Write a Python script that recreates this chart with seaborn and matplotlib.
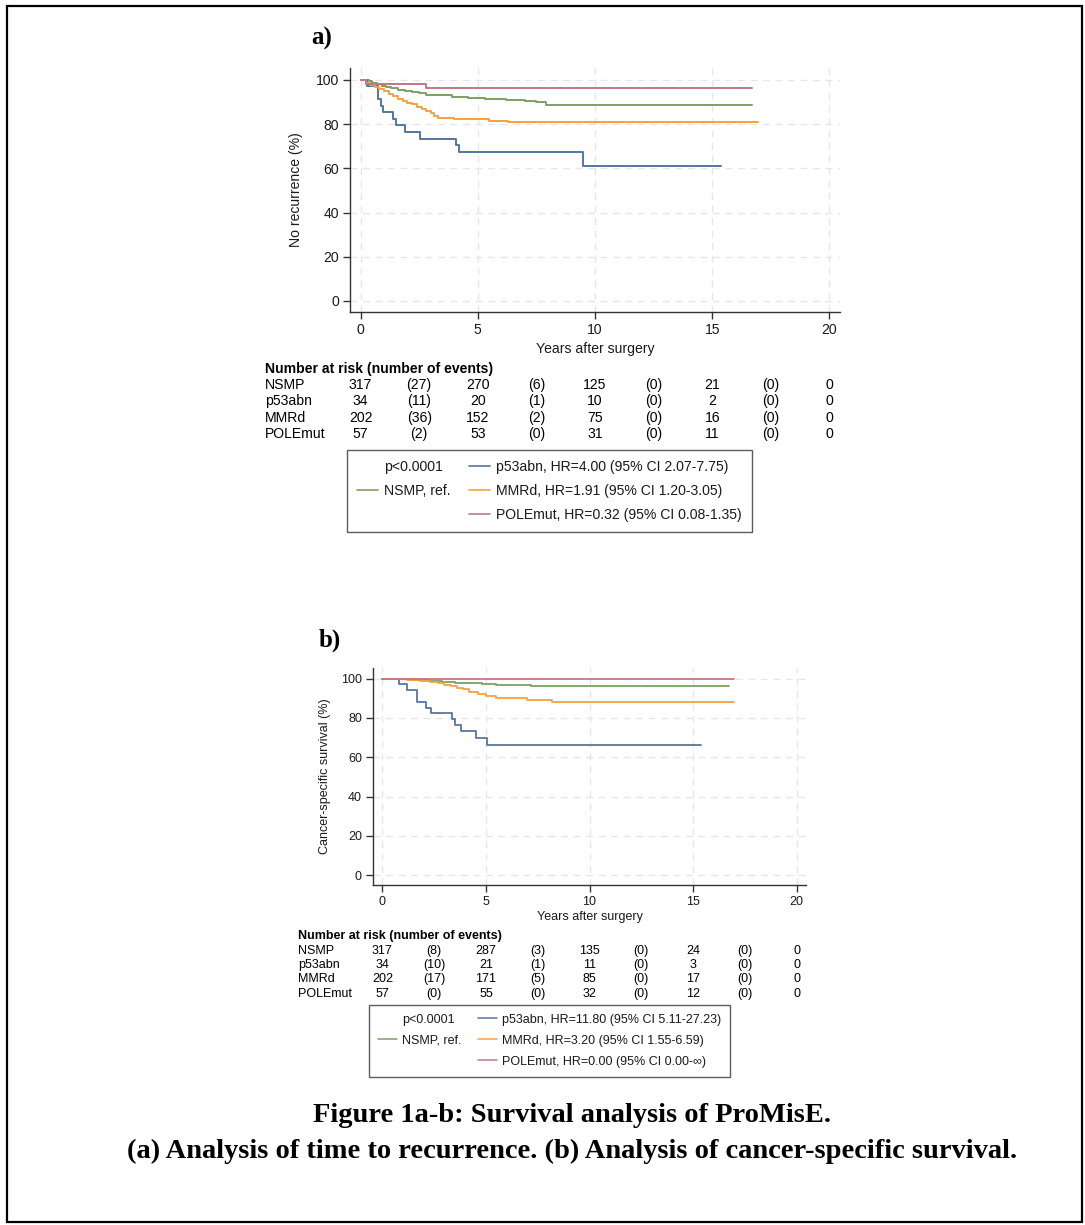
import numpy as np
import pandas as pd
import matplotlib
matplotlib.use("Agg")
import matplotlib.pyplot as plt
import matplotlib.transforms as mtrans
from matplotlib.lines import Line2D
from matplotlib.patches import Rectangle
import seaborn as sns

sns.set_theme(style="white")
plt.rcParams["font.family"] = ["Liberation Sans", "DejaVu Sans"]
plt.rcParams["text.color"] = "black"

# ---------------- data ----------------
groups = ["NSMP", "p53abn", "MMRd", "POLEmut"]
palette = {"NSMP": "#7f9f62", "p53abn": "#54779f", "MMRd": "#f5a23c", "POLEmut": "#c07a82"}

# Panel a: time to recurrence (step curves: time of change, new value)
a_nsmp_t = [0, 0.35, 0.5, 0.7, 0.9, 1.1, 1.3, 1.6, 1.9, 2.2, 2.5, 2.8, 3.3, 3.9, 4.6, 5.3, 6.2, 7.0, 7.5, 7.9, 16.7]
a_nsmp_s = [100, 99.3, 98.6, 98.0, 97.3, 96.7, 96.2, 95.6, 95.1, 94.6, 94.0, 93.4, 93.0, 92.5, 91.8, 91.2, 90.8, 90.4, 89.8, 88.8, 88.8]
a_p53_t = [0, 0.28, 0.75, 0.87, 0.97, 1.37, 1.51, 1.91, 2.55, 4.06, 4.21, 9.47, 15.36]
a_p53_s = [100, 97.1, 91.2, 88.2, 85.3, 82.4, 79.4, 76.5, 73.5, 70.4, 67.2, 61.2, 61.2]
a_mmr_t = [0, 0.23, 0.4, 0.6, 0.8, 1.0, 1.2, 1.4, 1.6, 1.8, 2.0, 2.2, 2.4, 2.6, 2.8, 3.0, 3.15, 3.3, 4.0, 5.5, 6.3, 16.95]
a_mmr_s = [100, 98.5, 97.8, 96.8, 95.8, 94.8, 93.8, 92.6, 91.4, 90.6, 89.7, 88.9, 87.9, 87.0, 86.1, 85.0, 83.6, 82.6, 82.1, 81.6, 81.0, 81.0]
a_pole_t = [0, 0.23, 2.8, 16.7]
a_pole_s = [100, 98.2, 96.5, 96.5]

# Panel b: cancer-specific survival
b_nsmp_t = [0, 0.9, 1.5, 2.2, 2.9, 3.5, 4.2, 4.8, 5.5, 6.2, 7.2, 7.6, 16.75]
b_nsmp_s = [100, 99.6, 99.2, 98.8, 98.4, 98.0, 97.6, 97.3, 97.0, 96.7, 96.4, 96.2, 96.2]
b_p53_t = [0, 0.8, 1.17, 1.68, 2.1, 2.34, 3.34, 3.5, 3.8, 4.53, 5.06, 15.4]
b_p53_s = [100, 97.1, 94.1, 88.2, 85.3, 82.3, 79.4, 76.4, 73.4, 69.6, 66.1, 66.1]
b_mmr_t = [0, 1.2, 1.8, 2.3, 2.7, 3.0, 3.3, 3.6, 3.9, 4.2, 4.6, 5.0, 5.5, 7.0, 8.2, 16.96]
b_mmr_s = [100, 99.5, 99.0, 98.5, 97.8, 97.0, 96.2, 95.3, 94.5, 93.2, 92.2, 91.3, 89.9, 89.2, 88.2, 88.2]
b_pole_t = [0, 16.96]
b_pole_s = [100, 100]

# Risk tables
risk_times = [0, 5, 10, 15, 20]
event_times = [2.5, 7.5, 12.5, 17.5]
a_risk = {"NSMP": [317, 270, 125, 21, 0], "p53abn": [34, 20, 10, 2, 0],
          "MMRd": [202, 152, 75, 16, 0], "POLEmut": [57, 53, 31, 11, 0]}
a_events = {"NSMP": [27, 6, 0, 0], "p53abn": [11, 1, 0, 0],
            "MMRd": [36, 2, 0, 0], "POLEmut": [2, 0, 0, 0]}
b_risk = {"NSMP": [317, 287, 135, 24, 0], "p53abn": [34, 21, 11, 3, 0],
          "MMRd": [202, 171, 85, 17, 0], "POLEmut": [57, 55, 32, 12, 0]}
b_events = {"NSMP": [8, 3, 0, 0], "p53abn": [10, 1, 0, 0],
            "MMRd": [17, 5, 0, 0], "POLEmut": [0, 0, 0, 0]}

a_legend = ["p<0.0001", "NSMP, ref.",
            "p53abn, HR=4.00 (95% CI 2.07-7.75)",
            "MMRd, HR=1.91 (95% CI 1.20-3.05)",
            "POLEmut, HR=0.32 (95% CI 0.08-1.35)"]
b_legend = ["p<0.0001", "NSMP, ref.",
            "p53abn, HR=11.80 (95% CI 5.11-27.23)",
            "MMRd, HR=3.20 (95% CI 1.55-6.59)",
            "POLEmut, HR=0.00 (95% CI 0.00-\u221e)"]

# ---------------- figure ----------------
W, H = 1085, 1225
fig = plt.figure(figsize=(W / 100, H / 100), dpi=100)


def fx(px):
    return px / W


def fy(py):
    return 1 - py / H


def make_df(tl, sl):
    frames = []
    for g, t, s in zip(groups, tl, sl):
        frames.append(pd.DataFrame({"group": g, "time": t, "surv": s}))
    return pd.concat(frames, ignore_index=True)


df_a = make_df([a_nsmp_t, a_p53_t, a_mmr_t, a_pole_t], [a_nsmp_s, a_p53_s, a_mmr_s, a_pole_s])
df_b = make_df([b_nsmp_t, b_p53_t, b_mmr_t, b_pole_t], [b_nsmp_s, b_p53_s, b_mmr_s, b_pole_s])

TXT = "#1a1a1a"


def draw_panel(ax, df, ylabel, fs, lw, ylab_x, xlab_y):
    for x in range(0, 21, 5):
        ax.axvline(x, color="#e6e6e6", lw=1, ls=(0, (5, 4)), zorder=0)
    for y in range(0, 101, 20):
        ax.axhline(y, color="#e6e6e6", lw=1, ls=(0, (5, 4)), zorder=0)
    sns.lineplot(data=df, x="time", y="surv", hue="group", hue_order=groups,
                 palette=palette, drawstyle="steps-post", estimator=None,
                 sort=False, legend=False, ax=ax, lw=lw)
    ax.set_xlim(-0.45, 20.45)
    ax.set_ylim(-5, 105.4)
    ax.set_xticks(range(0, 21, 5))
    ax.set_yticks(range(0, 101, 20))
    for s in ["top", "right"]:
        ax.spines[s].set_visible(False)
    for s in ["left", "bottom"]:
        ax.spines[s].set_color("#333333")
        ax.spines[s].set_linewidth(1)
    ax.tick_params(direction="out", length=5, width=1, labelsize=fs,
                   colors="#333333", labelcolor=TXT, left=True, bottom=True, pad=3)
    ax.set_xlabel("Years after surgery", fontsize=fs, color=TXT)
    ax.set_ylabel(ylabel, fontsize=fs, color=TXT)
    ax.yaxis.set_label_coords(ylab_x, 0.5)
    ax.xaxis.set_label_coords(0.5, xlab_y)
    ax.set_facecolor("none")


def risk_table(ax, header_y, row_ys, label_x, risk, events, fs):
    tr = mtrans.blended_transform_factory(ax.transData, fig.transFigure)
    fig.text(fx(label_x), fy(header_y), "Number at risk (number of events)",
             weight="bold", fontsize=fs, va="center", ha="left", color="black")
    for g, y in zip(groups, row_ys):
        fig.text(fx(label_x), fy(y), g, fontsize=fs, va="center", ha="left", color="black")
        for t, n in zip(risk_times, risk[g]):
            ax.text(t, fy(y), str(n), transform=tr, ha="center", va="center",
                    fontsize=fs, color="black")
        for t, e in zip(event_times, events[g]):
            ax.text(t, fy(y), f"({e})", transform=tr, ha="center", va="center",
                    fontsize=fs, color="black")


def legend_box(labels, x, y, fs, lw):
    handles = [Line2D([], [], color="none"),
               Line2D([], [], color=palette["NSMP"], lw=lw),
               Line2D([], [], color="none"),
               Line2D([], [], color=palette["p53abn"], lw=lw),
               Line2D([], [], color=palette["MMRd"], lw=lw),
               Line2D([], [], color=palette["POLEmut"], lw=lw)]
    labs = [labels[0], labels[1], "", labels[2], labels[3], labels[4]]
    leg = fig.legend(handles, labs, ncol=2, loc="upper left",
                     bbox_to_anchor=(fx(x), fy(y)), frameon=True, fancybox=False,
                     edgecolor="#333333", fontsize=fs, handlelength=1.5,
                     handletextpad=0.45, columnspacing=1.3, labelspacing=0.72,
                     borderpad=0.7, borderaxespad=0)
    leg.get_frame().set_linewidth(1)
    for t in leg.get_texts():
        t.set_color(TXT)
    return leg


SERIF = ["Liberation Serif", "DejaVu Serif"]

# Panel a
ax_a = fig.add_axes([fx(350), fy(312), fx(840) - fx(350), fy(68) - fy(312)])
draw_panel(ax_a, df_a, "No recurrence (%)", 10.1, 1.4, -0.096, -0.125)
risk_table(ax_a, 369, [385, 401, 418, 434], 265, a_risk, a_events, 10.1)
legend_box(a_legend, 347, 450, 10.1, 1.2)
fig.text(fx(322), fy(38), "a)", fontsize=18, weight="bold", ha="center", va="center",
         family=SERIF, color="black")

# Panel b
ax_b = fig.add_axes([fx(373), fy(885), fx(806) - fx(373), fy(668) - fy(885)])
draw_panel(ax_b, df_b, "Cancer-specific survival (%)", 9.0, 1.3, -0.097, -0.12)
risk_table(ax_b, 936, [951, 965, 979, 994], 298, b_risk, b_events, 9.0)
legend_box(b_legend, 369, 1005, 9.0, 1.1)
fig.text(fx(330), fy(640), "b)", fontsize=18, weight="bold", ha="center", va="center",
         family=SERIF, color="black")

# Caption
fig.text(fx(572), fy(1115), "Figure 1a-b: Survival analysis of ProMisE.", fontsize=20.5,
         weight="bold", ha="center", va="center", family=SERIF, color="black")
fig.text(fx(572), fy(1151),
         "(a) Analysis of time to recurrence. (b) Analysis of cancer-specific survival.",
         fontsize=20.5, weight="bold", ha="center", va="center", family=SERIF, color="black")

# Outer border
fig.patches.append(Rectangle((fx(7), fy(1222)), fx(1082) - fx(7), fy(6) - fy(1222),
                             transform=fig.transFigure, fill=False, ec="black", lw=1.6))

fig.savefig("out.png", dpi=100)
